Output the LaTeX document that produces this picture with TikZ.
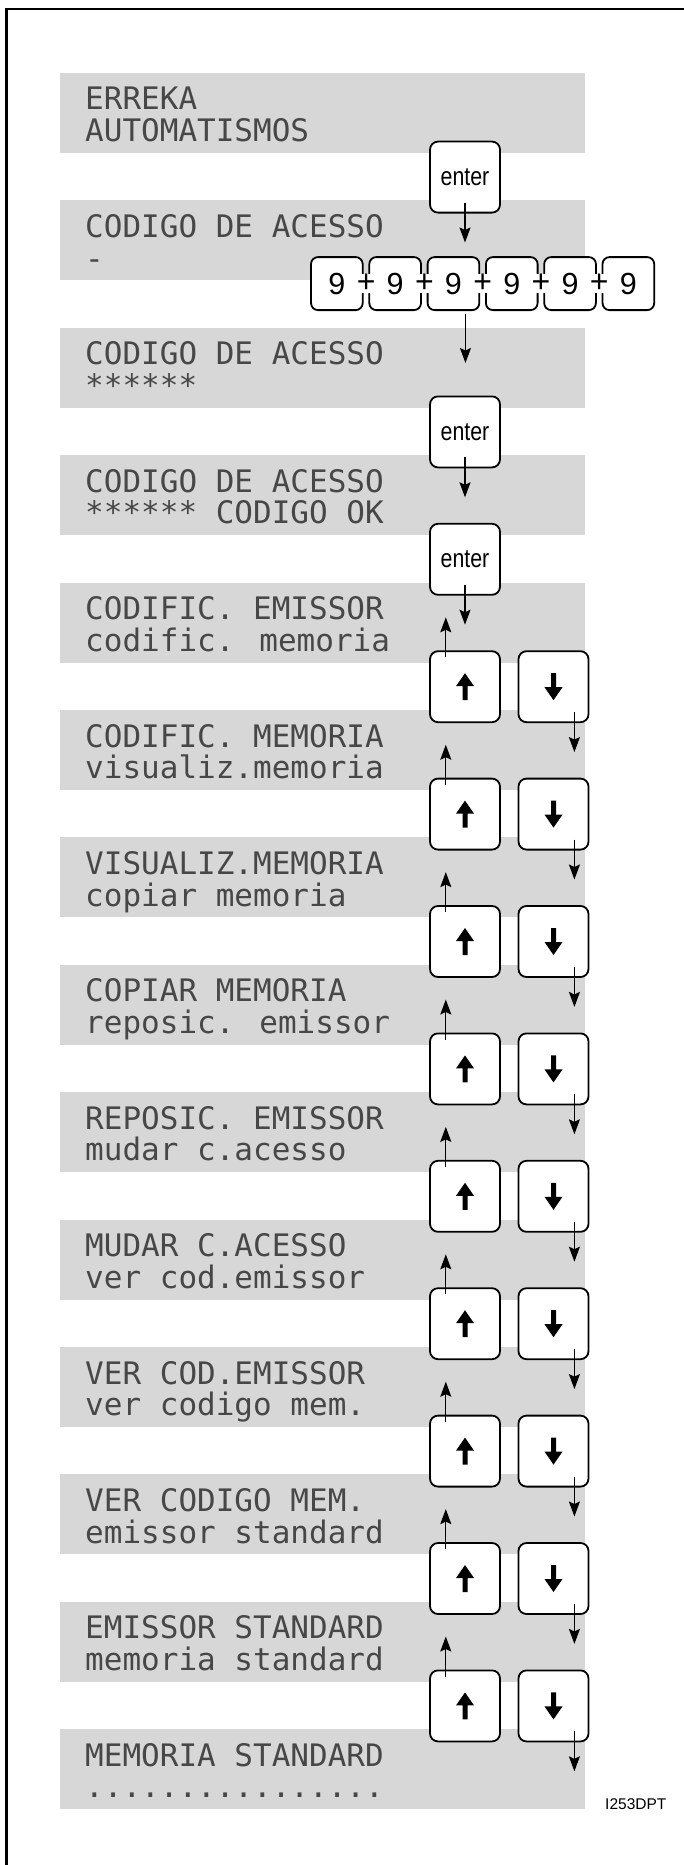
\documentclass[tikz,border=0pt]{standalone}
\usepackage{fontspec}
\usepackage{tikz}
\usetikzlibrary{arrows.meta}
\newfontfamily\lcdfont{DejaVu Sans Mono}
\newfontfamily\keyfont{Liberation Sans}
\newfontfamily\enterfont[FakeStretch=0.82]{Liberation Sans}
\definecolor{lcdgray}{RGB}{215,215,215}
\newcommand\lcddots{................}
\tikzset{
  lcd/.style={fill=lcdgray, anchor=north west, minimum width=525, minimum height=80, inner sep=0},
  lcdtext/.style={anchor=base west, inner sep=0, text=black!72, font=\lcdfont\fontsize{31}{31}\selectfont},
  key/.style={draw, fill=white, line width=1.8, rounded corners=8, minimum width=70, minimum height=71, inner sep=0},
  digitkey/.style={key, rounded corners=7, minimum width=51.7, minimum height=53, font=\keyfont\fontsize{30.5}{30.5}\selectfont},
  plus/.style={fill=white, inner sep=0.3, font=\keyfont\fontsize{32}{32}\selectfont}
}
\begin{document}
\begin{tikzpicture}[x=1pt,y=-1pt,>={Stealth[length=15pt,width=11pt,inset=2.5pt]}]
  \useasboundingbox (0,0) rectangle (684,1865);
  \draw[line width=2.5] (684,9) -| (6.5,1865);
  % display screens
  \foreach \lineA/\lineB [count=\i from 0] in {ERREKA/AUTOMATISMOS,
      CODIGO DE ACESSO/-,
      CODIGO DE ACESSO/******,
      CODIGO DE ACESSO/****** CODIGO OK,
      CODIFIC. EMISSOR/codific. memoria,
      CODIFIC. MEMORIA/visualiz.memoria,
      VISUALIZ.MEMORIA/copiar memoria,
      COPIAR MEMORIA/reposic. emissor,
      REPOSIC. EMISSOR/mudar c.acesso,
      MUDAR C.ACESSO/ver cod.emissor,
      VER COD.EMISSOR/ver codigo mem.,
      VER CODIGO MEM./emissor standard,
      EMISSOR STANDARD/memoria standard,
      MEMORIA STANDARD/\lcddots} {
    \node[lcd] (L\i) at (60,{72.7+127.4*\i}) {};
    \node[lcdtext] (T\i) at (85,{110+127.4*\i}) {\lineA};
    \node[lcdtext] (B\i) at (85,{141.7+127.4*\i}) {\lineB};
  }
  % enter keys
  \foreach \i in {0,2,3}
    \node[key, anchor=north, font=\enterfont\fontsize{26}{26}\selectfont] (E\i) at (465,{140.7+127.4*\i}) {enter};
  % code 999999
  \foreach \k in {1,...,6}
    \node[digitkey] (N\k) at ({336.85+58.3*(\k-1)},283.6) {9};
  \foreach \k in {1,...,5}
    \node[plus] (P\k) at ({366.1+58.3*(\k-1)},283.6) {+};
  % up and down keys
  \foreach \i in {4,...,12} {
    \node[key, anchor=north] (Up\i) at (465,{140.7+127.4*\i}) {};
    \node[key, anchor=north] (Dn\i) at (553.5,{140.7+127.4*\i}) {};
    \fill ([yshift=13.5pt]Up\i.center) -- ++(9pt,-13pt) -- ++(-6.5pt,0pt) -- ++(0pt,-14pt)
      -- ++(-5pt,0pt) -- ++(0pt,14pt) -- ++(-6.5pt,0pt) -- cycle;
    \fill ([yshift=-13.5pt]Dn\i.center) -- ++(9pt,13pt) -- ++(-6.5pt,0pt) -- ++(0pt,14pt)
      -- ++(-5pt,0pt) -- ++(0pt,-14pt) -- ++(-6.5pt,0pt) -- cycle;
  }
  \path[->,line width=1.3]
    ([yshift=11pt]E0.south) edge ([yshift=-29pt]E0.south)
    ([xshift=12pt,yshift=-3pt]N3.south) edge ([xshift=12pt,yshift=-52pt]N3.south)
    ([yshift=11pt]E2.south) edge ([yshift=-29pt]E2.south)
    ([yshift=11pt]E3.south) edge ([yshift=-29pt]E3.south);
  \foreach \i in {4,...,12}
    \path[->,line width=1.3]
      ([xshift=16.7pt,yshift=-7pt]Up\i.north west) edge ([xshift=16.7pt,yshift=33pt]Up\i.north west)
      ([xshift=-15pt,yshift=11pt]Dn\i.south east) edge ([xshift=-15pt,yshift=-29pt]Dn\i.south east);
  \node[anchor=base west, inner sep=0, font=\keyfont\fontsize{15.5}{15.5}\selectfont] (ref) at (605,1809) {I253DPT};
\end{tikzpicture}
\end{document}
